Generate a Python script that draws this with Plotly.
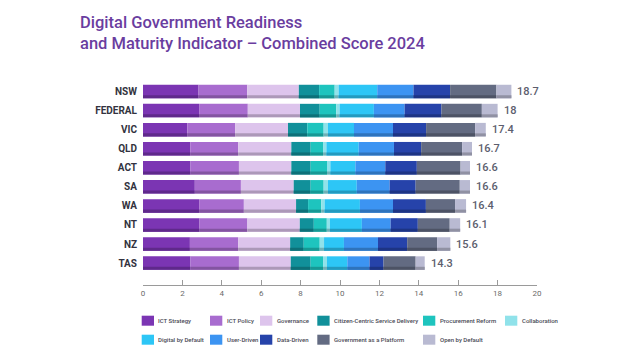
import numpy as np
import plotly.graph_objects as go

regions = ["NSW", "FEDERAL", "VIC", "QLD", "ACT", "SA", "WA", "NT", "NZ", "TAS"]
totals = [18.7, 18, 17.4, 16.7, 16.6, 16.6, 16.4, 16.1, 15.6, 14.3]

ict_strategy = [2.82, 2.85, 2.25, 2.40, 2.41, 2.63, 2.85, 2.87, 2.38, 2.41]
ict_policy = [2.47, 2.47, 2.43, 2.43, 2.46, 2.34, 2.27, 2.43, 2.45, 2.46]
governance = [2.62, 2.65, 2.68, 2.70, 2.66, 2.68, 2.65, 2.66, 2.64, 2.63]
citizen_centric = [1.03, 1.00, 0.98, 0.98, 0.98, 0.86, 0.61, 0.71, 0.69, 1.01]
procurement = [0.79, 0.84, 0.83, 0.63, 0.83, 0.66, 0.67, 0.66, 0.81, 0.63]
collaboration = [0.20, 0.17, 0.22, 0.17, 0.17, 0.22, 0.17, 0.16, 0.22, 0.20]
digital_default = [1.96, 1.74, 1.32, 1.64, 1.27, 1.46, 1.79, 1.62, 1.01, 1.03]
user_driven = [1.84, 1.56, 1.98, 1.79, 1.52, 1.67, 1.68, 1.46, 1.73, 1.13]
data_driven = [1.86, 1.87, 1.68, 1.38, 1.60, 1.32, 1.67, 1.38, 1.48, 0.71]
gov_platform = [2.35, 2.05, 2.49, 2.08, 2.22, 2.24, 1.48, 1.62, 1.52, 1.63]
open_default = [0.76, 0.80, 0.54, 0.50, 0.48, 0.52, 0.56, 0.53, 0.67, 0.46]

series_names = ["ICT Strategy", "ICT Policy", "Governance", "Citizen-Centric Service Delivery",
                "Procurement Reform", "Collaboration", "Digital by Default", "User-Driven",
                "Data-Driven", "Government as a Platform", "Open by Default"]
series_values = [ict_strategy, ict_policy, governance, citizen_centric, procurement, collaboration,
                 digital_default, user_driven, data_driven, gov_platform, open_default]
colors = ["#7B35B3", "#A86CCF", "#DDC4EC", "#11909A", "#1EC4BE", "#90E2EA",
          "#2DC6F6", "#3C94F2", "#2643AA", "#636B82", "#B9BAD2"]


def darker(hexc, f=0.78):
    h = hexc.lstrip("#")
    r, g, b = (int(h[i:i + 2], 16) for i in (0, 2, 4))
    return "#%02x%02x%02x" % (int(r * f), int(g * f), int(b * f))


# page body has an 8px margin: work in reference pixels and shift by O
O = 8
W, H = 640 - 2 * O, 360 - 2 * O
L = round(142.7 - O)
R = round(W - (537.3 - O))
T = round(82 - O)
B = round(H - (285 - O))
PW, PH = W - L - R, H - T - B


def px_x(p):
    return (p - O - L) / PW


def px_y(p):
    return (H - B - (p - O)) / PH


fig = go.Figure()
vals = np.array(series_values)
bases = np.vstack([np.zeros(len(regions)), np.cumsum(vals, axis=0)[:-1]])
BW = 0.71
SH = 0.16
for name, v, base, c in zip(series_names, vals, bases, colors):
    fig.add_trace(go.Bar(y=regions, x=v, base=base, orientation="h", width=BW, offset=-BW / 2,
                         marker=dict(color=c, line=dict(width=0)), name=name, showlegend=False,
                         hoverinfo="x+name"))
    fig.add_trace(go.Bar(y=regions, x=v, base=base, orientation="h", width=SH, offset=BW / 2 - SH,
                         marker=dict(color=darker(c), line=dict(width=0)), showlegend=False,
                         hoverinfo="skip"))

for r, t in zip(regions, totals):
    fig.add_annotation(x=t, y=r, xref="x", yref="y", text=f"{t:g}", showarrow=False,
                       xanchor="left", xshift=4,
                       font=dict(family="Roboto", size=11, color="#5C5E6E", weight=500))

# custom legend
legend_rows = [[0, 1, 2, 3, 4, 5], [6, 7, 8, 9, 10]]
col_x = [141.7, 210, 260, 317.3, 423, 505]
row_y = [320.7, 339.7]
for ri, row in enumerate(legend_rows):
    for ci, si in enumerate(row):
        x0 = col_x[ci]
        yc = row_y[ri]
        fig.add_shape(type="rect", xref="paper", yref="paper", x0=px_x(x0), x1=px_x(x0 + 12.3),
                      y0=px_y(yc + 5), y1=px_y(yc - 5), fillcolor=colors[si], line=dict(width=0))
        fig.add_annotation(xref="paper", yref="paper", x=px_x(x0 + 14.5), y=px_y(yc),
                           text=series_names[si], showarrow=False, xanchor="left", yanchor="middle",
                           font=dict(family="Roboto", size=6, color="#4A4A55", weight=500))

# title
fig.add_annotation(xref="paper", yref="paper", x=px_x(78), y=px_y(11), xanchor="left", yanchor="top",
                   align="left", showarrow=False,
                   text="Digital Government Readiness<br>and Maturity Indicator – Combined Score 2024",
                   font=dict(family="Roboto", size=16.5, color="#6A3D9F", weight=500))

fig.update_layout(
    width=W, height=H,
    margin=dict(l=L, r=R, t=T, b=B, autoexpand=False),
    barmode="overlay",
    plot_bgcolor="white", paper_bgcolor="white",
    xaxis=dict(range=[0, 20], tickmode="array", tickvals=list(range(0, 21, 2)),
               showgrid=False, zeroline=False, showline=True, linecolor="#9A9A9A", linewidth=1,
               ticks="inside", ticklen=5, tickcolor="#9A9A9A",
               tickfont=dict(family="Roboto", size=8, color="#6A6A6A"), fixedrange=True),
    yaxis=dict(type="category", categoryorder="array", categoryarray=regions,
               range=[10.15, -0.5], autorange=False, showgrid=False, zeroline=False,
               showline=False, ticks="", ticklabelstandoff=5,
               tickfont=dict(family="Roboto", size=10, color="#333340", weight="bold")),
)

fig.write_html("out.html")
